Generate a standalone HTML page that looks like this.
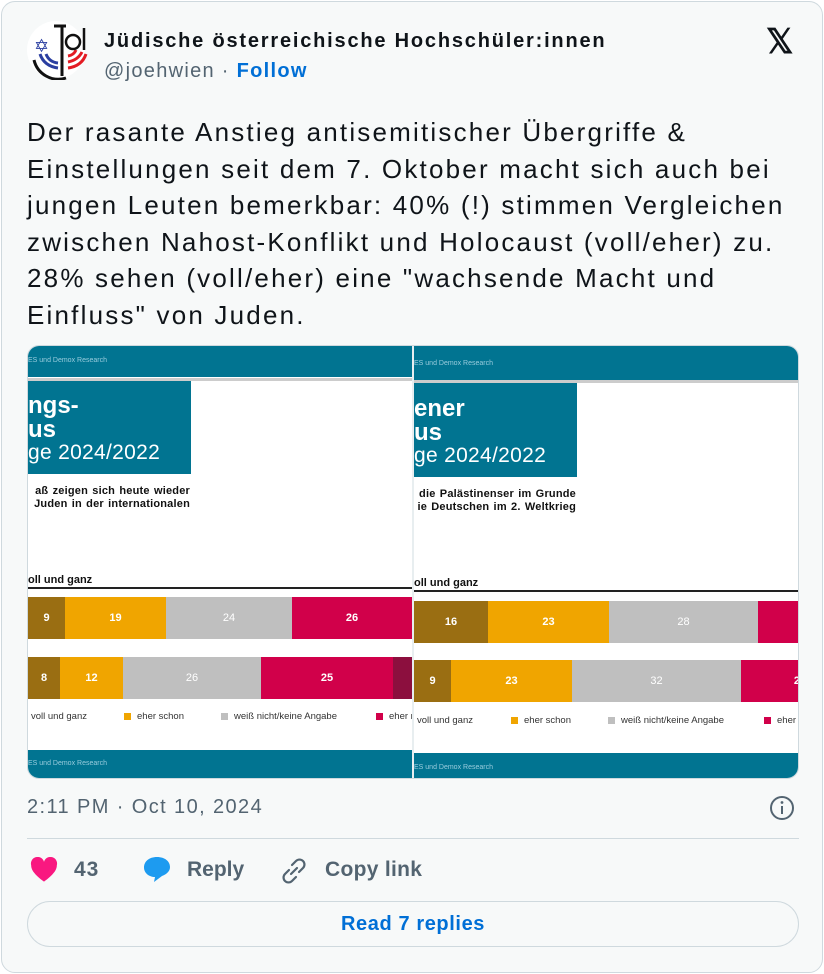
<!DOCTYPE html>
<html><head><meta charset="utf-8"><style>
*{margin:0;padding:0;box-sizing:border-box}
body{width:824px;height:974px;background:#fff;font-family:"Liberation Sans",sans-serif;position:relative;overflow:hidden}
.card{position:absolute;left:1px;top:1px;width:822px;height:972px;background:#f7f9f9;border:1px solid #cfd9de;border-radius:14px}
.a{position:absolute;white-space:nowrap}
.img{position:absolute;left:27px;top:345px;width:772px;height:434px;border:1px solid #cfd9de;border-radius:12px;overflow:hidden;background:#fff}
.p{position:absolute;top:0;height:434px;background:#fff;overflow:hidden}
.teal{background:#017491;position:absolute}
.seg{position:absolute;color:#fff;font-weight:bold;font-size:11px;display:flex;align-items:center;justify-content:center}
.lg{position:absolute;font-size:9.5px;color:#333;white-space:nowrap}
.sq{position:absolute;width:7px;height:7px}
.sub{position:absolute;left:0;font-size:11px;font-weight:bold;color:#111;line-height:13px;width:162px;text-align:right;letter-spacing:0.2px;word-spacing:1px;white-space:nowrap}
</style></head><body>
<div class="card"></div>
<svg class="a" style="left:26px;top:20px" width="70" height="60" viewBox="0 0 70 60">
<circle cx="30" cy="30" r="29" fill="#fff"/>
<path d="M8 40 A25 25 0 0 0 40 58" stroke="#111" stroke-width="3" fill="none"/>
<path d="M36 6 L36 56 M28 6 L40 6" stroke="#111" stroke-width="3" fill="none"/>
<path d="M14 34 q4 12 18 14 M20 34 q3 8 12 9" stroke="#2a3ea0" stroke-width="3" fill="none"/>
<path d="M42 48 q14 -2 18 -14 M42 42 q10 -2 14 -10 M42 36 q6 -1 8 -6" stroke="#e31b23" stroke-width="3" fill="none"/>
<text x="8" y="32" font-size="18" fill="#2a3ea0">✡</text>
<circle cx="47" cy="22" r="7" stroke="#111" stroke-width="2.5" fill="none"/>
<path d="M58 8 L58 30" stroke="#111" stroke-width="2.5"/>
</svg>
<div class="a" style="left:104px;top:30px;font-size:20px;font-weight:bold;color:#0f1419;letter-spacing:1.8px">Jüdische österreichische Hochschüler:innen</div>
<div class="a" style="left:104px;top:60px;font-size:20px;color:#536471;letter-spacing:1.3px">@joehwien · <span style="color:#006fd6;font-weight:bold">Follow</span></div>
<div class="a" style="left:766px;top:22px;font-size:34px;font-weight:bold;color:#0f1419">𝕏</div>
<div class="a" style="left:27px;top:114px;font-size:26px;line-height:36.5px;color:#0f1419;letter-spacing:2.2px">Der rasante Anstieg antisemitischer Übergriffe &amp;<br>Einstellungen seit dem 7. Oktober macht sich auch bei<br>jungen Leuten bemerkbar: 40% (!) stimmen Vergleichen<br>zwischen Nahost-Konflikt und Holocaust (voll/eher) zu.<br>28% sehen (voll/eher) eine "wachsende Macht und<br>Einfluss" von Juden.</div>

<div class="img">
 <div class="p" style="left:0;width:384px">
  <div class="teal" style="left:0;top:0;width:384px;height:31px"></div>
  <div class="a" style="left:0;top:11px;font-size:7px;color:#9cd">ES und Demox Research</div>
  <div style="position:absolute;left:0;top:32px;width:384px;height:3px;background:#ccc"></div>
  <div class="teal" style="left:0;top:35px;width:163px;height:93px"></div>
  <div class="a" style="left:0;top:48px;font-size:24px;font-weight:bold;color:#fff;line-height:24px">ngs-<br>us</div>
  <div class="a" style="left:0;top:95px;font-size:21px;color:#fff;letter-spacing:0.3px">ge 2024/2022</div>
  <div class="sub" style="top:139px">aß zeigen sich heute wieder<br>Juden in der internationalen</div>
  <div class="a" style="left:0;top:228px;font-size:11px;font-weight:bold;color:#111">oll und ganz</div>
  <div style="position:absolute;left:0;top:241px;width:384px;height:2px;background:#222"></div>
  <div class="seg" style="left:0;top:251px;width:37px;height:42px;background:#9a6e12">9</div>
  <div class="seg" style="left:37px;top:251px;width:101px;height:42px;background:#f0a500">19</div>
  <div class="seg" style="left:138px;top:251px;width:126px;height:42px;background:#bfbfbf;font-weight:normal">24</div>
  <div class="seg" style="left:264px;top:251px;width:120px;height:42px;background:#d1004a">26</div>
  <div class="seg" style="left:0;top:311px;width:32px;height:42px;background:#9a6e12">8</div>
  <div class="seg" style="left:32px;top:311px;width:63px;height:42px;background:#f0a500">12</div>
  <div class="seg" style="left:95px;top:311px;width:138px;height:42px;background:#bfbfbf;font-weight:normal">26</div>
  <div class="seg" style="left:233px;top:311px;width:132px;height:42px;background:#d1004a">25</div>
  <div class="seg" style="left:365px;top:311px;width:19px;height:42px;background:#8c0f3e"></div>
  <div class="lg" style="left:3px;top:365px">voll und ganz</div>
  <div class="sq" style="left:96px;top:367px;background:#f0a500"></div><div class="lg" style="left:109px;top:365px">eher schon</div>
  <div class="sq" style="left:193px;top:367px;background:#bfbfbf"></div><div class="lg" style="left:206px;top:365px">weiß nicht/keine Angabe</div>
  <div class="sq" style="left:348px;top:367px;background:#d1004a"></div><div class="lg" style="left:361px;top:365px">eher r</div>
  <div class="teal" style="left:0;top:404px;width:384px;height:30px"></div>
  <div class="a" style="left:0;top:414px;font-size:7px;color:#9cd">ES und Demox Research</div>
 </div>
 <div style="position:absolute;left:384px;top:0;width:2px;height:434px;background:#e8eef0"></div>
 <div class="p" style="left:386px;width:386px">
  <div class="teal" style="left:0;top:0;width:386px;height:34px"></div>
  <div class="a" style="left:0;top:14px;font-size:7px;color:#9cd">ES und Demox Research</div>
  <div style="position:absolute;left:0;top:34px;width:386px;height:3px;background:#ccc"></div>
  <div class="teal" style="left:0;top:37px;width:163px;height:94px"></div>
  <div class="a" style="left:0;top:51px;font-size:24px;font-weight:bold;color:#fff;line-height:24px">ener<br>us</div>
  <div class="a" style="left:0;top:98px;font-size:21px;color:#fff;letter-spacing:0.3px">ge 2024/2022</div>
  <div class="sub" style="top:142px">die Palästinenser im Grunde<br>ie Deutschen im 2. Weltkrieg</div>
  <div class="a" style="left:0;top:231px;font-size:11px;font-weight:bold;color:#111">oll und ganz</div>
  <div style="position:absolute;left:0;top:244px;width:386px;height:2px;background:#222"></div>
  <div class="seg" style="left:0;top:255px;width:74px;height:42px;background:#9a6e12">16</div>
  <div class="seg" style="left:74px;top:255px;width:121px;height:42px;background:#f0a500">23</div>
  <div class="seg" style="left:195px;top:255px;width:149px;height:42px;background:#bfbfbf;font-weight:normal">28</div>
  <div class="seg" style="left:344px;top:255px;width:42px;height:42px;background:#d1004a"></div>
  <div class="seg" style="left:0;top:314px;width:37px;height:42px;background:#9a6e12">9</div>
  <div class="seg" style="left:37px;top:314px;width:121px;height:42px;background:#f0a500">23</div>
  <div class="seg" style="left:158px;top:314px;width:169px;height:42px;background:#bfbfbf;font-weight:normal">32</div>
  <div class="seg" style="left:327px;top:314px;width:59px;height:42px;background:#d1004a;justify-content:flex-end">2</div>
  <div class="lg" style="left:3px;top:369px">voll und ganz</div>
  <div class="sq" style="left:97px;top:371px;background:#f0a500"></div><div class="lg" style="left:110px;top:369px">eher schon</div>
  <div class="sq" style="left:194px;top:371px;background:#bfbfbf"></div><div class="lg" style="left:207px;top:369px">weiß nicht/keine Angabe</div>
  <div class="sq" style="left:350px;top:371px;background:#d1004a"></div><div class="lg" style="left:363px;top:369px">eher r</div>
  <div class="teal" style="left:0;top:407px;width:386px;height:27px"></div>
  <div class="a" style="left:0;top:418px;font-size:7px;color:#9cd">ES und Demox Research</div>
 </div>
</div>

<div class="a" style="left:27px;top:796px;font-size:20px;color:#536471;letter-spacing:1.4px">2:11 PM · Oct 10, 2024</div>
<svg class="a" style="left:768px;top:794px" width="28" height="28" viewBox="0 0 28 28"><circle cx="14" cy="14" r="11" stroke="#536471" stroke-width="2" fill="none"/><rect x="13" y="12" width="2" height="8" fill="#536471"/><circle cx="14" cy="8.5" r="1.4" fill="#536471"/></svg>
<div style="position:absolute;left:27px;top:838px;width:772px;height:1px;background:#cfd9de"></div>
<svg class="a" style="left:30px;top:857px" width="28" height="26" viewBox="0 0 24 22"><path d="M12 21 C4 15 1 11 1 7 A5.5 5.5 0 0 1 12 4 A5.5 5.5 0 0 1 23 7 C23 11 20 15 12 21Z" fill="#f91880"/></svg>
<div class="a" style="left:74px;top:858px;font-size:21px;font-weight:bold;color:#536471;letter-spacing:1px">43</div>
<svg class="a" style="left:142px;top:855px" width="30" height="30" viewBox="0 0 30 30"><path d="M15 2 C7 2 2 6.5 2 12.5 C2 18 7 22 13 22 L12 27 L20 21 C25 19 28 16 28 12 C28 6.5 23 2 15 2Z" fill="#1d9bf0"/></svg>
<div class="a" style="left:187px;top:858px;font-size:21px;font-weight:bold;color:#536471">Reply</div>
<svg class="a" style="left:280px;top:857px" width="28" height="28" viewBox="0 0 28 28" fill="none" stroke="#536471" stroke-width="2.2" stroke-linecap="round"><path d="M12 8 l4-4 a4.5 4.5 0 0 1 7 7 l-4 4"/><path d="M16 20 l-4 4 a4.5 4.5 0 0 1 -7 -7 l4 -4"/><path d="M11 17 l6 -6"/></svg>
<div class="a" style="left:325px;top:858px;font-size:21px;font-weight:bold;color:#536471;letter-spacing:0.3px">Copy link</div>
<div style="position:absolute;left:27px;top:901px;width:772px;height:46px;border:1px solid #cfd9de;border-radius:23px;text-align:center;line-height:44px;font-size:20px;font-weight:bold;color:#006fd6;letter-spacing:0.6px">Read 7 replies</div>
</body></html>
